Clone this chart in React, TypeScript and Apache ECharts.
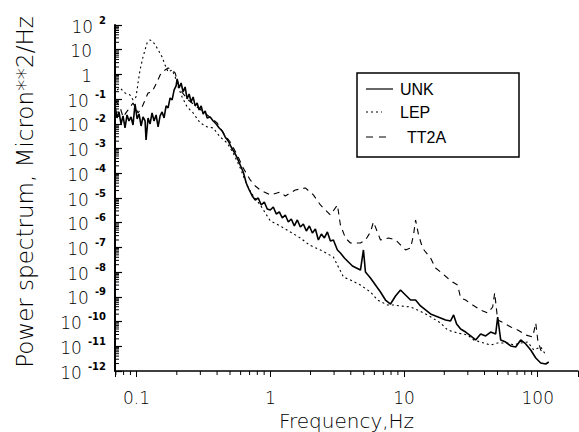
import React, { useEffect, useRef } from 'react';
import * as echarts from 'echarts';

// Frequency (Hz), power spectral density (micron^2/Hz)
const unkData: [number, number][] = [
  [0.069, 5.31e-2], [0.0714, 1.73e-2], [0.0739, 3.03e-2], [0.0765, 9.9e-3], [0.0792, 2.09e-2],
  [0.082, 6.82e-3], [0.0849, 2.29e-2], [0.0878, 1.31e-2], [0.0909, 1.9e-2], [0.0941, 9.03e-3],
  [0.0974, 6.38e-2], [0.101, 1.58e-2], [0.1044, 2.52e-2], [0.1081, 8.22e-3], [0.1118, 1.9e-2],
  [0.1158, 1.31e-2], [0.1178, 2.23e-3], [0.1219, 1.73e-2], [0.1262, 9.9e-3], [0.1306, 2.76e-2],
  [0.1352, 1.31e-2], [0.14, 2.29e-2], [0.1449, 7.5e-3], [0.15, 2.09e-2], [0.1552, 3.03e-2],
  [0.1606, 1.73e-2], [0.1663, 5.31e-2], [0.1721, 4.41e-2], [0.1782, 0.1117], [0.1845, 9.27e-2],
  [0.191, 0.236], [0.1976, 0.342], [0.2011, 0.656], [0.2081, 0.284], [0.2154, 0.452],
  [0.223, 0.195], [0.2308, 0.311], [0.2388, 0.1019], [0.2473, 0.162], [0.2559, 7.69e-2],
  [0.2649, 0.1227], [0.2743, 5.31e-2], [0.2839, 7.01e-2], [0.2938, 3.66e-2], [0.3042, 5.31e-2],
  [0.3149, 2.52e-2], [0.326, 3.33e-2], [0.3374, 1.73e-2], [0.3552, 1.9e-2], [0.3741, 1.31e-2],
  [0.394, 9.9e-3], [0.415, 6.82e-3], [0.437, 5.16e-3], [0.46, 2.95e-3], [0.485, 2.03e-3],
  [0.51, 1.16e-3], [0.537, 7.29e-4], [0.566, 4.17e-4], [0.596, 2.17e-4], [0.628, 1.13e-4],
  [0.661, 4.06e-5], [0.696, 2.11e-5], [0.733, 1.21e-5], [0.772, 8.32e-6], [0.813, 1.0e-5],
  [0.856, 5.22e-6], [0.902, 6.9e-6], [0.949, 3.6e-6], [1.0, 3.28e-6], [1.053, 4.34e-6],
  [1.109, 2.26e-6], [1.168, 2.72e-6], [1.23, 1.56e-6], [1.295, 2.06e-6], [1.364, 1.07e-6],
  [1.436, 1.42e-6], [1.513, 7.38e-7], [1.593, 1.29e-6], [1.678, 6.73e-7], [1.767, 8.89e-7],
  [1.861, 4.63e-7], [1.96, 7.38e-7], [2.064, 3.85e-7], [2.174, 5.58e-7], [2.289, 2.0e-7],
  [2.41, 3.5e-7], [2.538, 2.42e-7], [2.673, 4.22e-7], [2.815, 1.82e-7], [2.964, 2.0e-7],
  [3.177, 7.89e-8], [3.345, 5.96e-8], [3.584, 3.74e-8], [3.839, 2.58e-8], [4.114, 1.77e-8],
  [4.408, 1.47e-8], [4.723, 1.22e-8], [4.973, 7.89e-8], [5.148, 1.01e-8], [5.612, 5.81e-9],
  [6.116, 3.02e-9], [6.668, 1.57e-9], [7.269, 7.46e-10], [7.924, 5.14e-10], [8.639, 1.08e-9],
  [9.415, 1.9e-9], [10.26, 1.19e-9], [11.19, 7.46e-10], [12.2, 7.46e-10], [13.29, 4.28e-10],
  [14.49, 2.94e-10], [15.8, 2.03e-10], [17.22, 1.68e-10], [18.77, 1.4e-10], [20.46, 1.16e-10],
  [22.3, 1.06e-10], [23.49, 1.85e-10], [24.74, 7.98e-11], [26.51, 5.01e-11], [28.89, 3.78e-11],
  [31.49, 2.61e-11], [34.33, 1.8e-11], [37.42, 3.14e-11], [40.79, 2.61e-11], [44.46, 3.78e-11],
  [48.47, 3.14e-11], [50.17, 1.53e-10], [52.84, 1.8e-11], [57.6, 1.49e-11], [62.79, 1.03e-11],
  [68.44, 9.35e-12], [74.59, 1.8e-11], [81.33, 1.24e-11], [88.63, 7.08e-12], [96.63, 3.36e-12],
  [105.3, 2.11e-12], [114.8, 1.92e-12], [120.9, 2.31e-12],
];

const lepData: [number, number][] = [
  [0.0714, 0.236], [0.0752, 0.284], [0.082, 0.178], [0.0894, 0.148], [0.0941, 9.27e-2],
  [0.0991, 0.1227], [0.1026, 0.452], [0.1062, 1.52], [0.1118, 5.1], [0.1198, 18.8],
  [0.1262, 24.9], [0.1329, 20.7], [0.1424, 11.8], [0.1552, 5.1], [0.1634, 2.42],
  [0.1721, 1.26], [0.1845, 1.52], [0.1943, 0.791], [0.2046, 0.311], [0.2192, 0.1227],
  [0.2388, 4.83e-2], [0.2649, 2.76e-2], [0.299, 1.09e-2], [0.3374, 7.5e-3], [0.3741, 6.82e-3],
  [0.422, 2.95e-3], [0.476, 1.69e-3], [0.528, 6.64e-4], [0.596, 1.64e-4], [0.673, 3.07e-5],
  [0.746, 1.21e-5], [0.842, 5.22e-6], [1.0, 1.18e-6], [1.188, 7.38e-7], [1.412, 4.22e-7],
  [1.678, 2.42e-7], [1.96, 1.26e-7], [2.37, 7.89e-8], [2.964, 4.11e-8], [3.523, 6.37e-9],
  [3.975, 4.82e-9], [4.723, 3.02e-9], [5.612, 1.57e-9], [6.332, 7.46e-10], [7.522, 4.69e-10],
  [8.347, 4.69e-10], [9.415, 4.28e-10], [11.19, 3.89e-10], [12.62, 2.94e-10], [15.0, 1.85e-10],
  [18.77, 8.77e-11], [21.18, 4.56e-11], [25.17, 3.45e-11], [29.91, 2.86e-11], [33.17, 1.8e-11],
  [39.41, 1.36e-11], [44.46, 1.13e-11], [50.17, 1.36e-11], [59.64, 1.36e-11], [66.12, 1.13e-11],
  [74.59, 1.36e-11], [84.19, 1.49e-11], [93.35, 7.08e-12], [105.3, 9.35e-12], [114.8, 4.45e-12],
];

const tt2aData: [number, number][] = [
  [0.069, 9.27e-2], [0.0752, 4.83e-2], [0.0792, 1.9e-2], [0.0864, 3.66e-2], [0.0941, 7.01e-2],
  [0.1026, 2.76e-2], [0.1099, 4.83e-2], [0.1158, 9.27e-2], [0.1219, 0.178], [0.1306, 0.195],
  [0.1424, 0.497], [0.15, 0.953], [0.1634, 1.52], [0.1721, 1.83], [0.1845, 1.52],
  [0.1943, 1.15], [0.2117, 0.236], [0.2431, 9.27e-2], [0.2839, 4.83e-2], [0.3374, 2.29e-2],
  [0.401, 1.09e-2], [0.445, 4.29e-3], [0.502, 1.85e-3], [0.566, 5.52e-4], [0.628, 1.64e-4],
  [0.708, 5.37e-5], [0.772, 3.07e-5], [0.842, 2.11e-5], [1.0, 1.33e-5], [1.188, 1.75e-5],
  [1.295, 1.21e-5], [1.539, 2.11e-5], [1.829, 2.55e-5], [2.1, 1.33e-5], [2.37, 5.22e-6],
  [2.582, 3.28e-6], [2.815, 2.06e-6], [3.177, 5.22e-6], [3.345, 8.11e-7], [3.646, 2.42e-7],
  [3.975, 1.51e-7], [4.723, 1.51e-7], [5.148, 2.0e-7], [5.612, 4.22e-7], [5.91, 1.07e-6],
  [6.668, 2.0e-7], [7.655, 2.42e-7], [8.639, 2.0e-7], [9.415, 1.26e-7], [10.26, 7.89e-8],
  [11.19, 9.51e-8], [11.78, 3.19e-7], [12.2, 1.29e-6], [12.85, 3.19e-7], [13.76, 9.51e-8],
  [14.49, 6.55e-8], [15.8, 3.74e-8], [17.22, 1.47e-8], [18.77, 1.01e-8], [21.18, 5.81e-9],
  [23.09, 4.0e-9], [25.17, 3.02e-9], [26.51, 8.99e-10], [28.89, 7.46e-10], [32.61, 4.69e-10],
  [37.42, 2.94e-10], [42.22, 2.22e-10], [46.03, 3.89e-10], [47.64, 1.44e-9], [50.17, 1.16e-10],
  [55.65, 8.77e-11], [62.79, 6.04e-11], [70.84, 4.56e-11], [81.33, 2.86e-11], [91.76, 2.38e-11],
  [96.63, 8.77e-11], [100, 1.8e-11], [105.3, 7.08e-12], [110.9, 4.45e-12],
];

const seriesNames = ['UNK', 'LEP', 'TT2A'];
const xMajorLabels = ['0.1', '1', '10', '100'];
const xMinorTicks = [0.07, 0.08, 0.09, 0.2, 0.3, 0.4, 0.5, 0.6, 0.7, 0.8, 0.9,
  2, 3, 4, 5, 6, 7, 8, 9, 20, 30, 40, 50, 60, 70, 80, 90];
const yDecadeExponents = [-12, -11, -10, -9, -8, -7, -6, -5, -4, -3, -2, -1, 0, 1];
const minorMantissas = [2, 3, 4, 5, 6, 7, 8, 9];

const X_MIN = 0.069;
const X_MAX = 200;
const Y_MIN = 1e-12;
const Y_MAX = 100;

const THIN = "'DejaVu Sans', sans-serif";

export default function App() {
  const ref = useRef<HTMLDivElement>(null);

  useEffect(() => {
    if (!ref.current) return;
    const chart = echarts.init(ref.current, null, { renderer: 'svg' });

    const yMinorTicks: number[] = [];
    yDecadeExponents.forEach((e) => minorMantissas.forEach((m) => yMinorTicks.push(m * Math.pow(10, e))));

    const xFmt = (v: number) => {
      const l = Math.log10(v);
      const r = Math.round(l);
      if (Math.abs(l - r) > 0.01) return '';
      const idx = r + 1;
      return idx >= 0 && idx < xMajorLabels.length ? xMajorLabels[idx] : '';
    };
    const yFmt = (v: number) => {
      const l = Math.log10(v);
      const r = Math.round(l);
      if (Math.abs(l - r) > 0.01) return '';
      if (r === 0) return '{b|1}{p| }';
      if (r === 1) return '{b|10}{p| }';
      return '{b|10}{e|' + (r < 0 ? '-' + Math.abs(r) : String(r)) + '}';
    };

    const tickSeries = (data: number[][], dx: number, dy: number) => ({
      type: 'custom',
      silent: true,
      clip: false,
      z: 5,
      data,
      renderItem: (_p: any, api: any) => {
        const pt = api.coord([api.value(0), api.value(1)]);
        return {
          type: 'line',
          shape: { x1: pt[0], y1: pt[1], x2: pt[0] + dx, y2: pt[1] + dy },
          style: { stroke: '#000', lineWidth: 1 },
        };
      },
    });

    const legendFont = { fontFamily: "'Liberation Sans', Arial, sans-serif", fontSize: 16, fill: '#000' };

    chart.setOption({
      animation: false,
      backgroundColor: '#fff',
      grid: { left: 115, right: 1, top: 25, bottom: 61, containLabel: false, outerBoundsMode: 'none' },
      xAxis: {
        type: 'log',
        logBase: 10,
        min: X_MIN,
        max: X_MAX,
        name: 'Frequency,Hz',
        nameLocation: 'middle',
        nameGap: 40,
        nameMoveOverlap: false,
        nameTextStyle: { fontFamily: THIN, fontSize: 20, fontWeight: 200, color: '#000', verticalAlign: 'top' },
        axisLine: { lineStyle: { color: '#000', width: 1.5 } },
        axisTick: { inside: false, length: 6, lineStyle: { color: '#000', width: 1 } },
        axisLabel: { formatter: xFmt, margin: 18, fontFamily: THIN, fontSize: 17, fontWeight: 200, color: '#000' },
        splitLine: { show: false },
      },
      yAxis: {
        type: 'log',
        logBase: 10,
        min: Y_MIN,
        max: Y_MAX,
        interval: 1,
        axisLine: { show: true, lineStyle: { color: '#000', width: 2 } },
        axisTick: { inside: true, length: 7, lineStyle: { color: '#000', width: 1.2 } },
        axisLabel: {
          formatter: yFmt,
          margin: 9,
          color: '#000',
          rich: {
            b: { fontFamily: THIN, fontSize: 17, fontWeight: 200, color: '#000', verticalAlign: 'bottom', lineHeight: 20 },
            e: { fontFamily: "'DejaVu Sans', sans-serif", fontSize: 10, fontWeight: 'bold', color: '#000', verticalAlign: 'top', lineHeight: 20, padding: [0, 0, 0, 6] },
            p: { width: 14, fontSize: 10, lineHeight: 20 },
          },
        },
        splitLine: { show: false },
      },
      series: [
        {
          name: seriesNames[0], type: 'line', data: unkData, symbol: 'none', z: 3,
          lineStyle: { color: '#000', width: 1.6 },
        },
        {
          name: seriesNames[1], type: 'line', data: lepData, symbol: 'none', z: 2,
          lineStyle: { color: '#000', width: 1.1, type: [2, 3] },
        },
        {
          name: seriesNames[2], type: 'line', data: tt2aData, symbol: 'none', z: 2,
          lineStyle: { color: '#000', width: 1.1, type: [6, 5] },
        },
        tickSeries(xMinorTicks.map((f) => [f, Y_MIN]), 0, 4),
        tickSeries(yMinorTicks.map((v) => [X_MIN, v]), 4, 0),
      ],
      graphic: [
        {
          type: 'text', x: 25, y: 192, rotation: Math.PI / 2, z: 10,
          style: {
            text: 'Power spectrum, Micron**2/Hz', align: 'center', verticalAlign: 'middle',
            fontFamily: THIN, fontSize: 23, fontWeight: 200, fill: '#000',
          },
        },
        {
          type: 'rect', z: 10,
          shape: { x: 357, y: 73, width: 162, height: 84 },
          style: { fill: '#fff', stroke: '#000', lineWidth: 1.5 },
        },
        { type: 'line', z: 11, shape: { x1: 366, y1: 89, x2: 393, y2: 89 }, style: { stroke: '#000', lineWidth: 1.2 } },
        { type: 'line', z: 11, shape: { x1: 366, y1: 112, x2: 382, y2: 112 }, style: { stroke: '#000', lineWidth: 1.1, lineDash: [2, 3] } },
        { type: 'line', z: 11, shape: { x1: 366, y1: 137, x2: 391, y2: 137 }, style: { stroke: '#000', lineWidth: 1.1, lineDash: [7, 6] } },
        { type: 'text', z: 11, x: 400, y: 89, style: { text: seriesNames[0], verticalAlign: 'middle', ...legendFont } },
        { type: 'text', z: 11, x: 400, y: 112, style: { text: seriesNames[1], verticalAlign: 'middle', ...legendFont } },
        { type: 'text', z: 11, x: 407, y: 137, style: { text: seriesNames[2], verticalAlign: 'middle', ...legendFont } },
      ],
    });

    return () => chart.dispose();
  }, []);

  return (
    <div
      ref={ref}
      style={{ position: 'fixed', left: 0, top: 0, width: 579, height: 432, background: '#fff' }}
    />
  );
}
